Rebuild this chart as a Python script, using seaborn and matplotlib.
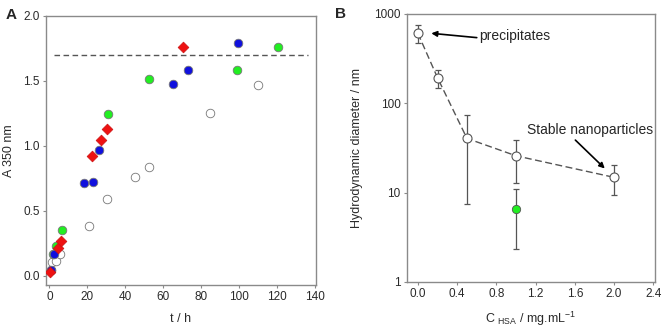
import numpy as np
import pandas as pd
import seaborn as sns
import matplotlib.pyplot as plt
from matplotlib.ticker import FixedLocator, NullLocator

# Panel A: absorbance at 350 nm vs time
blue_t = [0.7, 2.6, 18.3, 23.2, 26.2, 65.3, 72.9, 99.6]
blue_a = [0.047, 0.165, 0.713, 0.718, 0.97, 1.478, 1.58, 1.795]
red_t = [0.4, 4.6, 6.0, 22.7, 27.0, 30.2, 70.3]
red_a = [0.026, 0.21, 0.27, 0.92, 1.046, 1.13, 1.76]
green_t = [2.0, 3.5, 6.9, 31.1, 52.3, 98.7, 120.7]
green_a = [0.17, 0.228, 0.354, 1.245, 1.515, 1.58, 1.764]
white_t = [0.7, 1.6, 3.5, 5.6, 21.1, 30.2, 45.1, 52.5, 84.7, 109.8]
white_a = [0.047, 0.105, 0.11, 0.165, 0.385, 0.59, 0.76, 0.84, 1.255, 1.468]
plateau = 1.7

# Panel B: hydrodynamic diameter vs HSA concentration
c_hsa = [0.0, 0.2, 0.5, 1.0, 2.0]
diam = [607, 193, 40.4, 25.8, 14.8]
diam_hi = [746, 238, 73.8, 39.0, 20.5]
diam_lo = [477, 147, 7.36, 12.8, 9.29]
green_c = [1.0]
green_d = [6.58]
green_hi = [10.9]
green_lo = [2.32]

sns.set_style("white")
plt.rcParams['font.family'] = ['Liberation Sans', 'DejaVu Sans']
plt.rcParams['mathtext.fontset'] = 'custom'
plt.rcParams['mathtext.rm'] = 'Liberation Sans'

fig = plt.figure(figsize=(6.68, 3.32), dpi=100)
axA = fig.add_axes([0.069, 0.142, 0.404, 0.81])
axB = fig.add_axes([0.609, 0.151, 0.372, 0.807])

spine_col = '#8a8a8a'
txt_col = '#2a2a2a'

# ---- Panel A
axA.plot([2.5, 136.5], [plateau, plateau], ls=(0, (4, 2.5)), color='#555555', lw=1.0, zorder=1)
kw = dict(s=38, edgecolor='#777777', linewidth=0.6, zorder=3, ax=axA, legend=False)
sns.scatterplot(x=white_t, y=white_a, color='white', marker='o', **kw)
sns.scatterplot(x=green_t, y=green_a, color='#22ee22', marker='o', **kw)
sns.scatterplot(x=blue_t, y=blue_a, color='#1010dd', marker='o', **kw)
sns.scatterplot(x=red_t, y=red_a, color='#ee1111', marker='D', s=30, edgecolor='#cc1111',
                linewidth=0.5, zorder=4, ax=axA, legend=False)

axA.set_xlim(-1.7, 140.5)
axA.set_ylim(-0.07, 2.0)
axA.set_xticks(np.arange(0, 141, 20))
axA.set_yticks(np.arange(0, 2.01, 0.5))
axA.set_yticklabels([f"{v:.1f}" for v in np.arange(0, 2.01, 0.5)])
axA.set_xlabel("t / h", fontsize=9, color=txt_col, labelpad=7)
axA.set_ylabel("A 350 nm", fontsize=9, color=txt_col, labelpad=6)

# ---- Panel B
df = pd.DataFrame({'c': c_hsa, 'd': diam})
yerr = [np.array(diam) - np.array(diam_lo), np.array(diam_hi) - np.array(diam)]
axB.errorbar(c_hsa, diam, yerr=yerr, fmt='none', ecolor='#555555', elinewidth=0.9,
             capsize=2.5, capthick=0.9, zorder=2)
gerr = [np.array(green_d) - np.array(green_lo), np.array(green_hi) - np.array(green_d)]
axB.errorbar(green_c, green_d, yerr=gerr, fmt='none', ecolor='#555555', elinewidth=0.9,
             capsize=2.5, capthick=0.9, zorder=2)
sns.lineplot(data=df, x='c', y='d', ax=axB, color='#555555', lw=1.0, dashes=False,
             linestyle=(0, (5, 2.5)), zorder=1)
sns.scatterplot(data=df, x='c', y='d', ax=axB, color='white', edgecolor='#555555',
                s=42, linewidth=0.8, zorder=3, legend=False)
sns.scatterplot(x=green_c, y=green_d, ax=axB, color='#22ee22', edgecolor='#555555',
                s=36, linewidth=0.6, zorder=3, legend=False)

axB.set_yscale('log')
axB.set_ylim(1, 1000)
axB.set_xlim(-0.113, 2.42)
axB.yaxis.set_major_locator(FixedLocator([1, 10, 100, 1000]))
axB.yaxis.set_minor_locator(NullLocator())
axB.set_yticklabels(['1', '10', '100', '1000'])
axB.set_xticks(np.arange(0, 2.41, 0.4))
axB.set_xticklabels([f"{v:.1f}" for v in np.arange(0, 2.41, 0.4)])
axB.set_xlabel(r"C $_{\mathrm{HSA}}$ / mg.mL$^{-1}$", fontsize=9, color=txt_col, labelpad=7)
axB.set_ylabel("Hydrodynamic diameter / nm", fontsize=9, color=txt_col, labelpad=8)

arrow = dict(arrowstyle='-|>', color='black', lw=1.2, mutation_scale=8, shrinkA=0, shrinkB=0)
axB.text(0.62, 560, "precipitates", fontsize=10, va='center', ha='left')
axB.annotate("", xy=(0.137, 607), xytext=(0.6, 543), arrowprops=arrow)
axB.text(1.11, 50, "Stable nanoparticles", fontsize=10, va='center', ha='left')
axB.annotate("", xy=(1.905, 18.6), xytext=(1.605, 38.7), arrowprops=arrow)

for ax in (axA, axB):
    for s in ax.spines.values():
        s.set_color(spine_col)
        s.set_linewidth(1.0)
    ax.tick_params(axis='both', which='major', direction='out', length=2.5, width=0.8, pad=2,
                   color=spine_col, labelsize=8.5, labelcolor=txt_col, bottom=True, left=True)

fig.text(0.008, 0.955, "A", fontsize=11, fontweight='bold', va='center')
fig.text(0.502, 0.958, "B", fontsize=11, fontweight='bold', va='center')

fig.savefig('out.png', dpi=100)
